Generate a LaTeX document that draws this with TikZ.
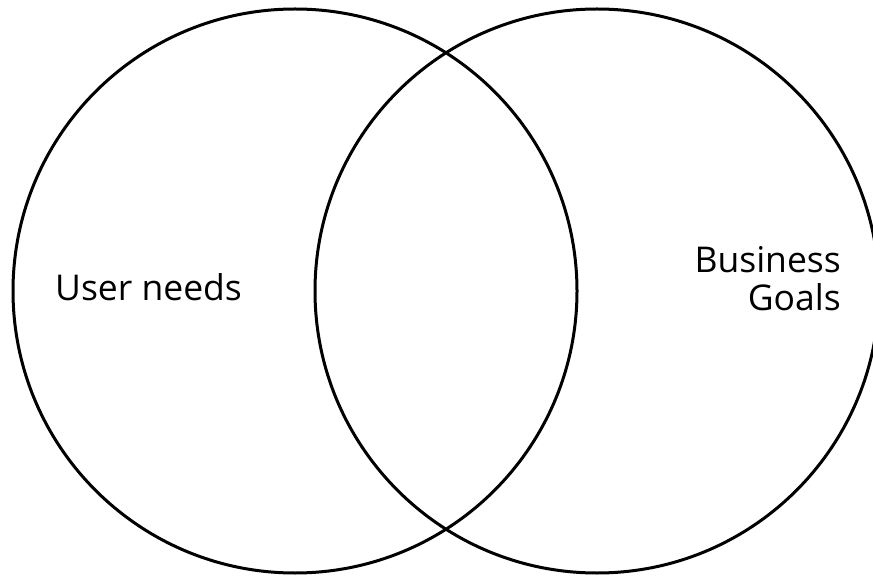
\documentclass[tikz,border=0pt]{standalone}
\usepackage{fontspec}
\setmainfont{Open Sans}
\usepackage{tikz}
\definecolor{vennline}{gray}{0.0}

\begin{document}
\begin{tikzpicture}[x=1pt, y=-1pt,
		venn/.style={circle, draw=vennline, line width=3pt, minimum size=564pt, inner sep=0pt},
		vennlabel/.style={font=\fontsize{35.5}{38}\selectfont, inner sep=0pt}]
		\useasboundingbox (0,0) rectangle (873,577);
		\clip (0,0) rectangle (873,577);

		\node[venn] (user) at (295, 291) {};
		\node[venn] (business) at (597, 291) {};

		\node[vennlabel, anchor=west] (userlbl) at (55, 287) {User needs};
		\node[vennlabel, anchor=east, align=right] (businesslbl) at (841, 279) {Business\\Goals};
	\end{tikzpicture}
\end{document}
